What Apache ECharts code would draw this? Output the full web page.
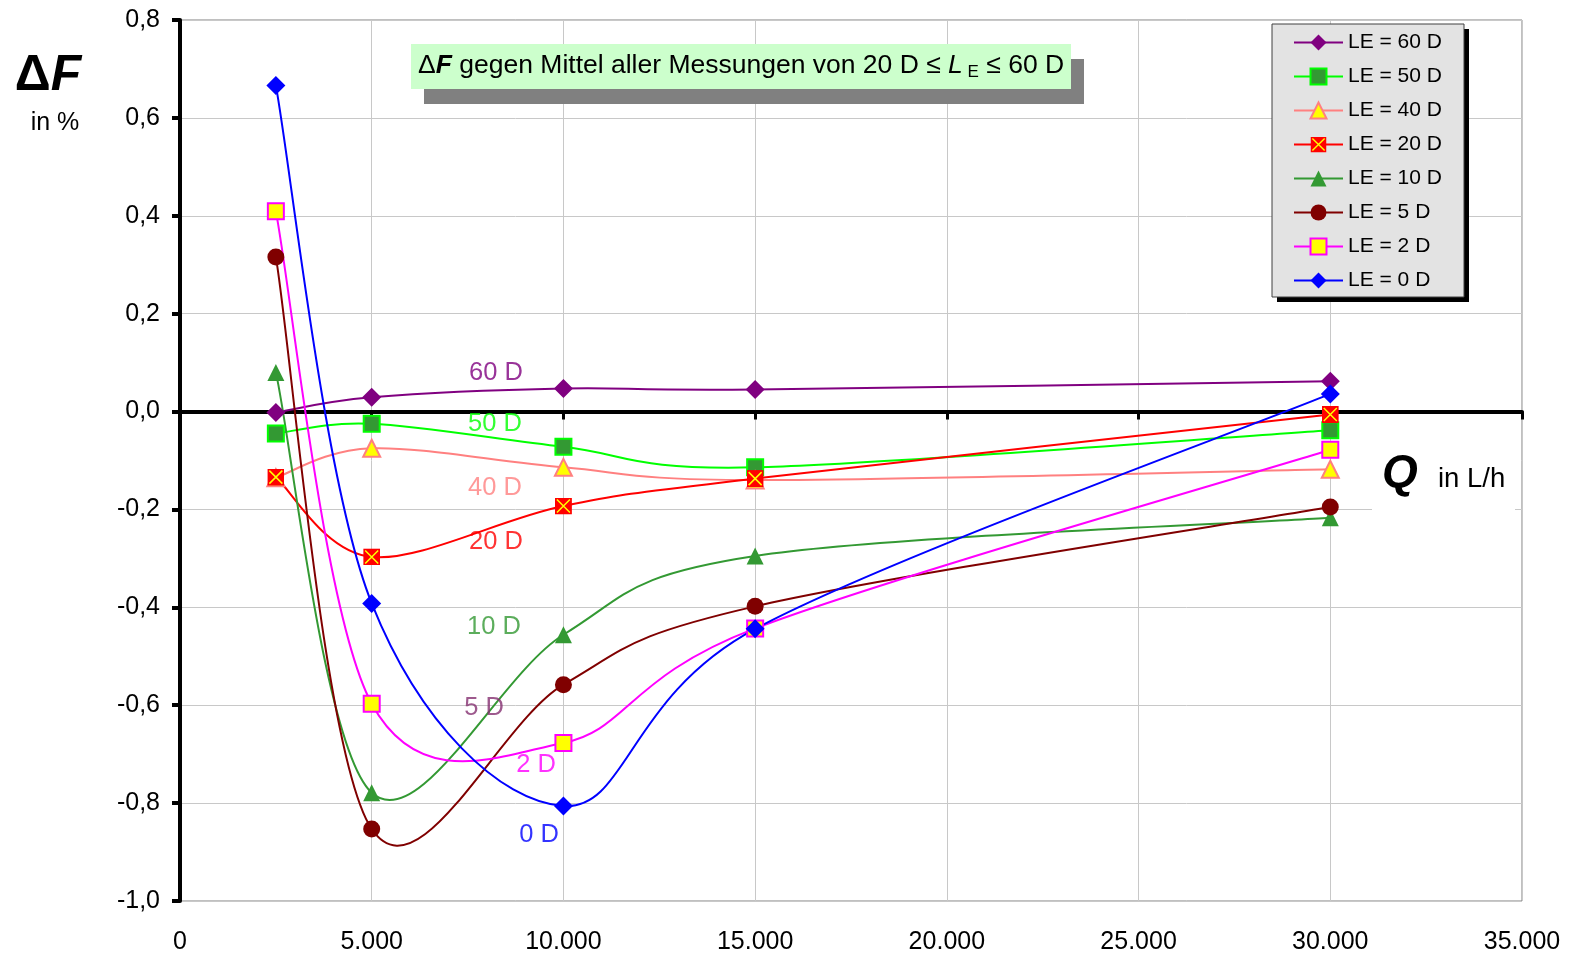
<!DOCTYPE html>
<html>
<head>
<meta charset="utf-8">
<script src="https://cdn.jsdelivr.net/npm/echarts@6/dist/echarts.min.js"></script>
<style>
  html, body { margin: 0; padding: 0; background: #ffffff; }
  #chart { width: 1575px; height: 953px; }
</style>
</head>
<body>
<div id="chart"></div>
<script>
// Flow rates Q in L/h
const flowRates = [2500, 5000, 10000, 15000, 30000];

// Deviation ΔF in % for each inlet length LE
const le60 = [-0.002, 0.029, 0.047, 0.045, 0.062];
const le50 = [-0.045, -0.025, -0.072, -0.114, -0.038];
const le40 = [-0.135, -0.075, -0.114, -0.140, -0.118];
const le20 = [-0.134, -0.297, -0.193, -0.137, -0.006];
const le10 = [0.080, -0.779, -0.456, -0.295, -0.217];
const le5  = [0.316, -0.853, -0.558, -0.398, -0.195];
const le2  = [0.409, -0.597, -0.677, -0.443, -0.078];
const le0  = [0.666, -0.392, -0.806, -0.444, 0.036];

const seriesNames = ['LE = 60 D', 'LE = 50 D', 'LE = 40 D', 'LE = 20 D',
                     'LE = 10 D', 'LE = 5 D', 'LE = 2 D', 'LE = 0 D'];

// Axis tick labels (German number format)
const xTickLabels = ['0', '5.000', '10.000', '15.000', '20.000', '25.000', '30.000', '35.000'];
const yTickLabels = ['-1,0', '-0,8', '-0,6', '-0,4', '-0,2', '0,0', '0,2', '0,4', '0,6', '0,8'];

// Curve name tags placed in data space
const curveTagText = ['60 D', '50 D', '40 D', '20 D', '10 D', '5 D', '2 D', '0 D'];
const curveTagQ    = [8240, 8215, 8215, 8240, 8190, 7930, 9285, 9365];
const curveTagDF   = [0.078, -0.025, -0.157, -0.266, -0.441, -0.605, -0.723, -0.866];

const tagColors = ['#800080', '#00ff00', '#ff8080', '#ff0000', '#339933', '#853070', '#ff00ff', '#0000ff'];

const crossSquare = 'image://data:image/svg+xml;utf8,' + encodeURIComponent(
  "<svg xmlns='http://www.w3.org/2000/svg' width='34' height='34'>" +
  "<rect x='0' y='0' width='34' height='34' fill='#ff0000'/>" +
  "<path d='M4 4L30 30M30 4L4 30' stroke='#ffff00' stroke-width='3'/></svg>");

const styles = [
  { symbol: 'diamond', size: 19, fill: '#800080', border: '#800080', bw: 0, line: '#800080' },
  { symbol: 'rect', size: 16, fill: '#339933', border: '#00ff00', bw: 2, line: '#00ff00' },
  { symbol: 'triangle', size: 17, fill: '#ffff00', border: '#ff8080', bw: 2, line: '#ff8080' },
  { symbol: crossSquare, size: 17, fill: '#ff0000', border: '#ff0000', bw: 0, line: '#ff0000' },
  { symbol: 'triangle', size: 17, fill: '#339933', border: '#339933', bw: 0, line: '#339933' },
  { symbol: 'circle', size: 17, fill: '#800000', border: '#800000', bw: 0, line: '#800000' },
  { symbol: 'rect', size: 16, fill: '#ffff00', border: '#ff00ff', bw: 2, line: '#ff00ff' },
  { symbol: 'diamond', size: 19, fill: '#0000ff', border: '#0000ff', bw: 0, line: '#0000ff' }
];

const allValues = [le60, le50, le40, le20, le10, le5, le2, le0];

const FONT = 'Liberation Sans, Arial, sans-serif';

// Markers for each measurement series (the smoothed curve is drawn by the custom series below)
const markerSeries = allValues.map((vals, i) => ({
  name: seriesNames[i],
  type: 'line',
  xAxisIndex: 0,
  yAxisIndex: 0,
  z: 3,
  symbol: styles[i].symbol,
  symbolSize: styles[i].size,
  showAllSymbol: true,
  lineStyle: { color: styles[i].line, width: 0, opacity: 0 },
  itemStyle: { color: styles[i].fill, borderColor: styles[i].border, borderWidth: styles[i].bw },
  emphasis: { disabled: true },
  animation: false,
  data: vals.map((v, k) => [flowRates[k], v])
}));

// Smoothed curve through the measured points: cubic Bezier segments with
// Catmull-Rom tangents (1/6 of the neighbour chord), computed in screen space.
function renderCurve(params, api) {
  const idx = params.dataIndex;
  const vals = allValues[idx];
  const p = vals.map((v, k) => api.coord([flowRates[k], v]));
  const n = p.length;
  const children = [];
  for (let k = 0; k < n - 1; k++) {
    const p0 = p[Math.max(k - 1, 0)];
    const p1 = p[k];
    const p2 = p[k + 1];
    const p3 = p[Math.min(k + 2, n - 1)];
    children.push({
      type: 'bezierCurve',
      shape: {
        x1: p1[0], y1: p1[1],
        cpx1: p1[0] + (p2[0] - p0[0]) / 6, cpy1: p1[1] + (p2[1] - p0[1]) / 6,
        cpx2: p2[0] - (p3[0] - p1[0]) / 6, cpy2: p2[1] - (p3[1] - p1[1]) / 6,
        x2: p2[0], y2: p2[1]
      },
      style: { fill: null, stroke: styles[idx].line, lineWidth: 2, lineCap: 'round' }
    });
  }
  return { type: 'group', children: children };
}

const curveSeries = {
  name: 'curves',
  type: 'custom',
  coordinateSystem: 'cartesian2d',
  xAxisIndex: 0,
  yAxisIndex: 0,
  z: 2,
  silent: true,
  animation: false,
  clip: true,
  renderItem: renderCurve,
  data: allValues.map(vals => [flowRates[0], vals[0]])
};

const tagSeries = {
  name: 'tags',
  type: 'scatter',
  xAxisIndex: 0,
  yAxisIndex: 0,
  symbolSize: 0,
  silent: true,
  animation: false,
  z: 5,
  label: {
    show: true,
    position: 'inside',
    fontFamily: FONT,
    fontSize: 25.5,
    formatter: p => p.data.tag
  },
  data: curveTagText.map((t, i) => ({
    value: [curveTagQ[i], curveTagDF[i]],
    tag: t,
    label: { color: tagColors[i] }
  }))
};

const chart = echarts.init(document.getElementById('chart'), null, { renderer: 'canvas' });

chart.setOption({
  backgroundColor: '#ffffff',
  animation: false,
  grid: {
    left: 180, right: 53, top: 20, bottom: 52,
    outerBoundsMode: 'none',
    containLabel: false,
    show: true, borderColor: '#808080', borderWidth: 1, backgroundColor: 'transparent'
  },
  xAxis: [
    {
      type: 'value', min: 0, max: 35000, interval: 5000, position: 'bottom',
      axisLine: { show: false, onZero: false },
      axisTick: { show: false },
      axisLabel: {
        fontFamily: FONT, fontSize: 25, color: '#000', margin: 29,
        formatter: v => xTickLabels[Math.round(v / 5000)]
      },
      splitLine: { show: true, lineStyle: { color: '#c8c8c8', width: 1 } }
    },
    {
      type: 'value', min: 0, max: 35000, interval: 5000, position: 'top',
      axisLine: { show: true, onZero: true, lineStyle: { color: '#000', width: 4 } },
      axisTick: { show: true, inside: true, length: 8, lineStyle: { color: '#000', width: 3 } },
      axisLabel: { show: false },
      splitLine: { show: false }
    }
  ],
  yAxis: {
    type: 'value', min: -1, max: 0.8, interval: 0.2,
    axisLine: { show: true, onZero: false, lineStyle: { color: '#000', width: 4 } },
    axisTick: { show: true, length: 8, lineStyle: { color: '#000', width: 4 } },
    axisLabel: {
      fontFamily: FONT, fontSize: 25, color: '#000', margin: 20,
      formatter: v => yTickLabels[Math.round((v + 1) / 0.2)]
    },
    splitLine: { show: true, lineStyle: { color: '#c8c8c8', width: 1 } }
  },
  legend: {
    data: seriesNames.map((name, i) => ({
      name: name,
      lineStyle: { color: styles[i].line, width: 2, opacity: 1, type: 'solid' }
    })),
    orient: 'vertical',
    left: 1272, top: 25,
    padding: [7, 21, 7, 21],
    itemWidth: 49, itemHeight: 20, itemGap: 13,
    backgroundColor: 'transparent',
    borderWidth: 0,
    textStyle: { fontFamily: FONT, fontSize: 21, color: '#000' },
    selectedMode: false
  },
  graphic: [
    // legend frame with drop shadow
    { type: 'rect', z: 3, silent: true,
      shape: { x: 1277, y: 29, width: 192, height: 273 },
      style: { fill: '#000000' } },
    { type: 'rect', z: 3, silent: true,
      shape: { x: 1272, y: 24, width: 192, height: 273 },
      style: { fill: '#e3e3e3', stroke: '#404040', lineWidth: 1 } },
    // white patch behind the Q axis caption
    { type: 'rect', z: 1, silent: true,
      shape: { x: 1372, y: 445, width: 143, height: 70 },
      style: { fill: '#ffffff' } },
    { type: 'text', z: 10, silent: true, x: 1382, y: 474,
      style: { text: 'Q', font: 'italic bold 46px ' + FONT, fill: '#000', verticalAlign: 'middle' } },
    { type: 'text', z: 10, silent: true, x: 1438, y: 479,
      style: { text: 'in L/h', font: '27.5px ' + FONT, fill: '#000', verticalAlign: 'middle' } },
    // y axis caption
    { type: 'text', z: 10, silent: true, x: 48, y: 76,
      style: {
        text: '{d|Δ}{f|F}', align: 'center', verticalAlign: 'middle',
        rich: {
          d: { fontFamily: FONT, fontSize: 50, fontWeight: 'bold', color: '#000' },
          f: { fontFamily: FONT, fontSize: 50, fontWeight: 'bold', fontStyle: 'italic', color: '#000' }
        }
      } },
    { type: 'text', z: 10, silent: true, x: 55, y: 123,
      style: { text: 'in %', font: '25px ' + FONT, fill: '#000', align: 'center', verticalAlign: 'middle' } },
    // title banner with drop shadow
    { type: 'rect', z: 10, silent: true,
      shape: { x: 424, y: 59, width: 660, height: 45 },
      style: { fill: '#808080' } },
    { type: 'rect', z: 11, silent: true,
      shape: { x: 411, y: 44, width: 660, height: 45 },
      style: { fill: '#ccffcc' } },
    { type: 'text', z: 12, silent: true, x: 418, y: 66,
      style: {
        text: '{d|Δ}{f|F}{n| gegen Mittel aller Messungen von 20 D ≤ }{l|L}{s| E}{n| ≤ 60 D}',
        verticalAlign: 'middle',
        rich: {
          d: { fontFamily: FONT, fontSize: 26.5, color: '#000080', lineHeight: 32 },
          f: { fontFamily: FONT, fontSize: 26.5, fontWeight: 'bold', fontStyle: 'italic', color: '#000080', lineHeight: 32 },
          n: { fontFamily: FONT, fontSize: 26.5, color: '#000080', lineHeight: 32 },
          l: { fontFamily: FONT, fontSize: 26.5, fontStyle: 'italic', color: '#000080', lineHeight: 32 },
          s: { fontFamily: FONT, fontSize: 17, color: '#000080', lineHeight: 17, padding: [13, 0, 0, 0] }
        }
      } }
  ],
  series: [curveSeries].concat(markerSeries, [tagSeries])
});
</script>
</body>
</html>
